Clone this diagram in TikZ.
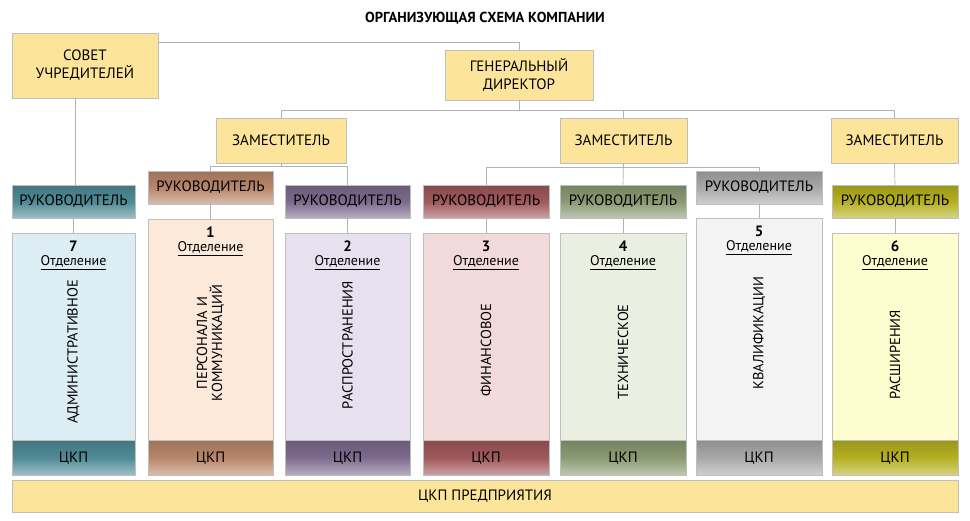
\documentclass[tikz,border=0pt]{standalone}
\usepackage{fontspec}
\setmainfont{PT Sans}
\begin{document}
\begin{tikzpicture}[x=1pt,y=-1pt,
  box/.style={draw=black!25,minimum width=#1,inner sep=0pt,align=center,font=\fontsize{15}{18}\selectfont},
  yel/.style={box=#1,fill=yellowbox},
  ln/.style={draw=black!30,line width=0.7pt},
  ttl/.style={font=\bfseries\fontsize{14.5}{16}\selectfont}]
\definecolor{yellowbox}{HTML}{FCE59A}
\definecolor{hA}{HTML}{4F8A96}\definecolor{dA}{HTML}{DCEEF3}
\definecolor{hB}{HTML}{B8866A}\definecolor{dB}{HTML}{FDE9DA}
\definecolor{hC}{HTML}{7D6A8E}\definecolor{dC}{HTML}{E7E0EE}
\definecolor{hD}{HTML}{A0585C}\definecolor{dD}{HTML}{F2DADA}
\definecolor{hE}{HTML}{8A9A72}\definecolor{dE}{HTML}{EAEFE1}
\definecolor{hF}{HTML}{A8A8A8}\definecolor{dF}{HTML}{F3F3F3}
\definecolor{hG}{HTML}{B5B020}\definecolor{dG}{HTML}{FEFDD0}
\useasboundingbox (0,0) rectangle (970,520);
\node[ttl] (title) at (485,18) {ОРГАНИЗУЮЩАЯ СХЕМА КОМПАНИИ};
\node[yel=146pt,minimum height=65pt] (sovet) at (85,65.5) {СОВЕТ\\УЧРЕДИТЕЛЕЙ};
\node[yel=148pt,minimum height=50pt] (gd) at (519,75) {ГЕНЕРАЛЬНЫЙ\\ДИРЕКТОР};
\node[yel=130pt,minimum height=45pt] (z1) at (281,140.5) {ЗАМЕСТИТЕЛЬ};
\node[yel=127pt,minimum height=45pt] (z2) at (623.5,140.5) {ЗАМЕСТИТЕЛЬ};
\node[yel=127pt,minimum height=45pt] (z3) at (894.5,140.5) {ЗАМЕСТИТЕЛЬ};
\coordinate (sb) at (75,98);
\newcommand{\col}[9]{%
  \path[draw=black!25,top color=h#6!85!black,bottom color=h#6!55!white,middle color=h#6] (#2,#4) rectangle (#3,#4+33);
  \node[font=\fontsize{15}{18}\selectfont,inner sep=0pt,minimum width=#3-#2,minimum height=33] (h#1) at ({(#2+#3)/2},#4+16.5) {РУКОВОДИТЕЛЬ};
  \node[draw=black!25,fill=d#6,minimum width=#3-#2,minimum height=475-#5,inner sep=0pt] (d#1) at ({(#2+#3)/2},{(#5+475)/2}) {};
  \node[font=\bfseries\fontsize{15}{15}\selectfont,anchor=north,inner sep=0pt,align=center] (n#1) at ({(#2+#3)/2},#5+8) {#7\\[-1pt]\underline{\normalfont\fontsize{14}{14}\selectfont Отделение}};
  \node[rotate=90,font=\fontsize{14.5}{15}\selectfont,align=center,inner sep=0pt] (v#1) at ({(#2+#3)/2},#9) {#8};
  \path[draw=black!25,top color=h#6!85!black,bottom color=h#6!55!white,middle color=h#6] (#2,440) rectangle (#3,475);
  \node[font=\fontsize{15}{18}\selectfont,inner sep=0pt] (c#1) at ({(#2+#3)/2},458) {ЦКП};
  \draw[ln] (h#1.south) -- (d#1.north);
}
\col{7}{12}{135}{185}{233}{A}{7}{АДМИНИСТРАТИВНОЕ}{352}
\col{1}{148}{273}{171}{219}{B}{1}{ПЕРСОНАЛА И\\КОММУНИКАЦИЙ}{343}
\col{2}{285}{410}{185}{233}{C}{2}{РАСПРОСТРАНЕНИЯ}{345}
\col{3}{423}{549}{185}{233}{D}{3}{ФИНАНСОВОЕ}{350}
\col{4}{560}{686}{185}{233}{E}{4}{ТЕХНИЧЕСКОЕ}{352}
\col{5}{696}{822}{171}{218}{F}{5}{КВАЛИФИКАЦИИ}{333}
\col{6}{832}{958}{185}{233}{G}{6}{РАСШИРЕНИЯ}{355}
\path[draw=black!25,fill=yellowbox] (12,480) rectangle (958,512);
\node[font=\fontsize{15}{18}\selectfont] (ckp) at (485,496) {ЦКП ПРЕДПРИЯТИЯ};
\draw[ln] (sovet.east |- 0,42) -- (519,42) -- (gd.north);
\draw[ln] (sb) -- (sb |- h7.north);
\draw[ln] (gd.south) -- (519,110);
\draw[ln] (281,110) -- (894.5,110);
\draw[ln] (z1.north) -- (281,110); \draw[ln] (z2.north) -- (623.5,110); \draw[ln] (z3.north) -- (894.5,110);
\draw[ln] (z1.south) -- (281,166);
\draw[ln] (h1.north) -- (210.5,166) -- (347.5,166) -- (h2.north);
\draw[ln] (z2.south) -- (h4.north);
\draw[ln] (h3.north) -- (486,167) -- (759,167) -- (h5.north);
\draw[ln] (z3.south) -- (h6.north);
\end{tikzpicture}
\end{document}
